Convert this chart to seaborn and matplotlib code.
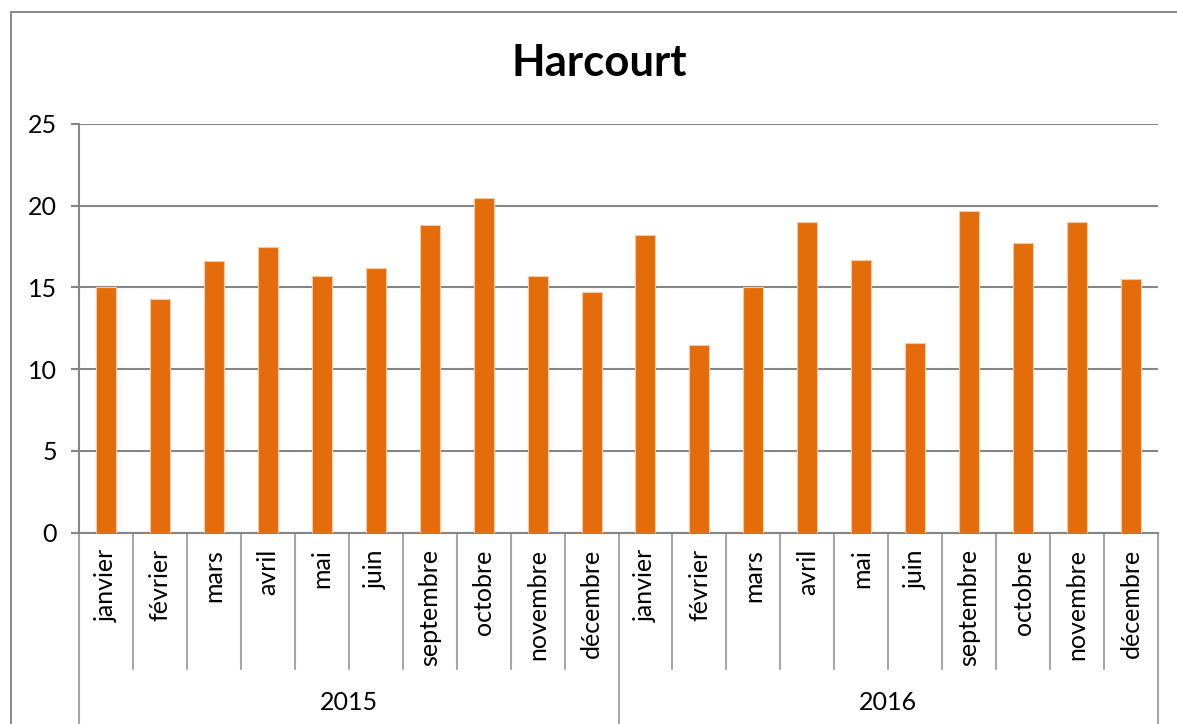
import numpy as np
import pandas as pd
import seaborn as sns
import matplotlib.pyplot as plt
from matplotlib.lines import Line2D

# values
months = ['janvier', 'février', 'mars', 'avril', 'mai', 'juin',
          'septembre', 'octobre', 'novembre', 'décembre']
years = ['2015', '2016']
values_2015 = [15.0, 14.3, 16.6, 17.5, 15.7, 16.2, 18.8, 20.5, 15.7, 14.7]
values_2016 = [18.2, 11.5, 15.0, 19.0, 16.7, 11.6, 19.7, 17.7, 19.0, 15.5]

rows = []
for y, vals in zip(years, [values_2015, values_2016]):
  for m, v in zip(months, vals):
    rows.append({'year': y, 'month': m, 'key': y + ' ' + m, 'value': v})
df = pd.DataFrame(rows)

sns.set_theme(style='white')
plt.rcParams['font.family'] = ['Lato', 'DejaVu Sans']

W, H = 1177, 724
fig = plt.figure(figsize=(W / 100, H / 100), dpi=100)
ax = fig.add_axes([79 / W, (H - 532.5) / H, (1158 - 79) / W, (532.5 - 124) / H])

grey = '#868686'
orange = '#E46C0A'

sns.barplot(data=df, x='key', y='value', color=orange, width=0.37,
            saturation=1, ax=ax, zorder=3, edgecolor='#F5C9A5', linewidth=0.8)

ax.set_ylim(0, 25)
ax.set_xlim(-0.5, len(df) - 0.5)
ax.set_yticks(range(0, 26, 5))
ax.yaxis.grid(True, color=grey, linewidth=1.5, zorder=0)
ax.set_axisbelow(True)
ax.set_xlabel('')
ax.set_ylabel('')

fs = 18
ax.set_xticks(range(len(df)))
ax.set_xticklabels(df['month'], rotation=90, va='top', ha='center')
ax.tick_params(axis='x', length=0, pad=12, labelsize=fs, colors='black')
ax.tick_params(axis='y', length=6, width=1.5, color=grey, direction='out',
               pad=10, labelsize=fs, labelcolor='black', left=True)

for s in ['top', 'right']:
  ax.spines[s].set_visible(False)
for s in ['left', 'bottom']:
  ax.spines[s].set_color(grey)
  ax.spines[s].set_linewidth(1.5)

# multi-level category separators
tr = ax.get_xaxis_transform()
inner_bottom = (532.5 - 669) / (532.5 - 124)
outer_bottom = (532.5 - 724) / (532.5 - 124)
n = len(months)
for k in range(len(df) + 1):
  low = outer_bottom if k % n == 0 else inner_bottom
  ax.add_line(Line2D([k - 0.5, k - 0.5], [0, low], transform=tr,
                     color='#A6A6A6', linewidth=1.5, clip_on=False))

year_y = (532.5 - 703) / (532.5 - 124)
for i, y in enumerate(years):
  ax.text(i * n + (n - 1) / 2, year_y, y, transform=tr, ha='center',
          va='center', fontsize=fs, color='black')

fig.text(599 / W, 1 - 63 / H, 'Harcourt', ha='center', va='center',
         fontsize=31.5, fontweight='bold', color='black')

# chart area border (only top and left edges are within the picture)
fig.add_artist(Line2D([11 / W, 11 / W], [0, 1 - 12 / H], transform=fig.transFigure,
                      color='#8C8C8C', linewidth=1.5))
fig.add_artist(Line2D([11 / W, 1], [1 - 12 / H, 1 - 12 / H], transform=fig.transFigure,
                      color='#8C8C8C', linewidth=1.5))

fig.savefig('out.png', dpi=100)
